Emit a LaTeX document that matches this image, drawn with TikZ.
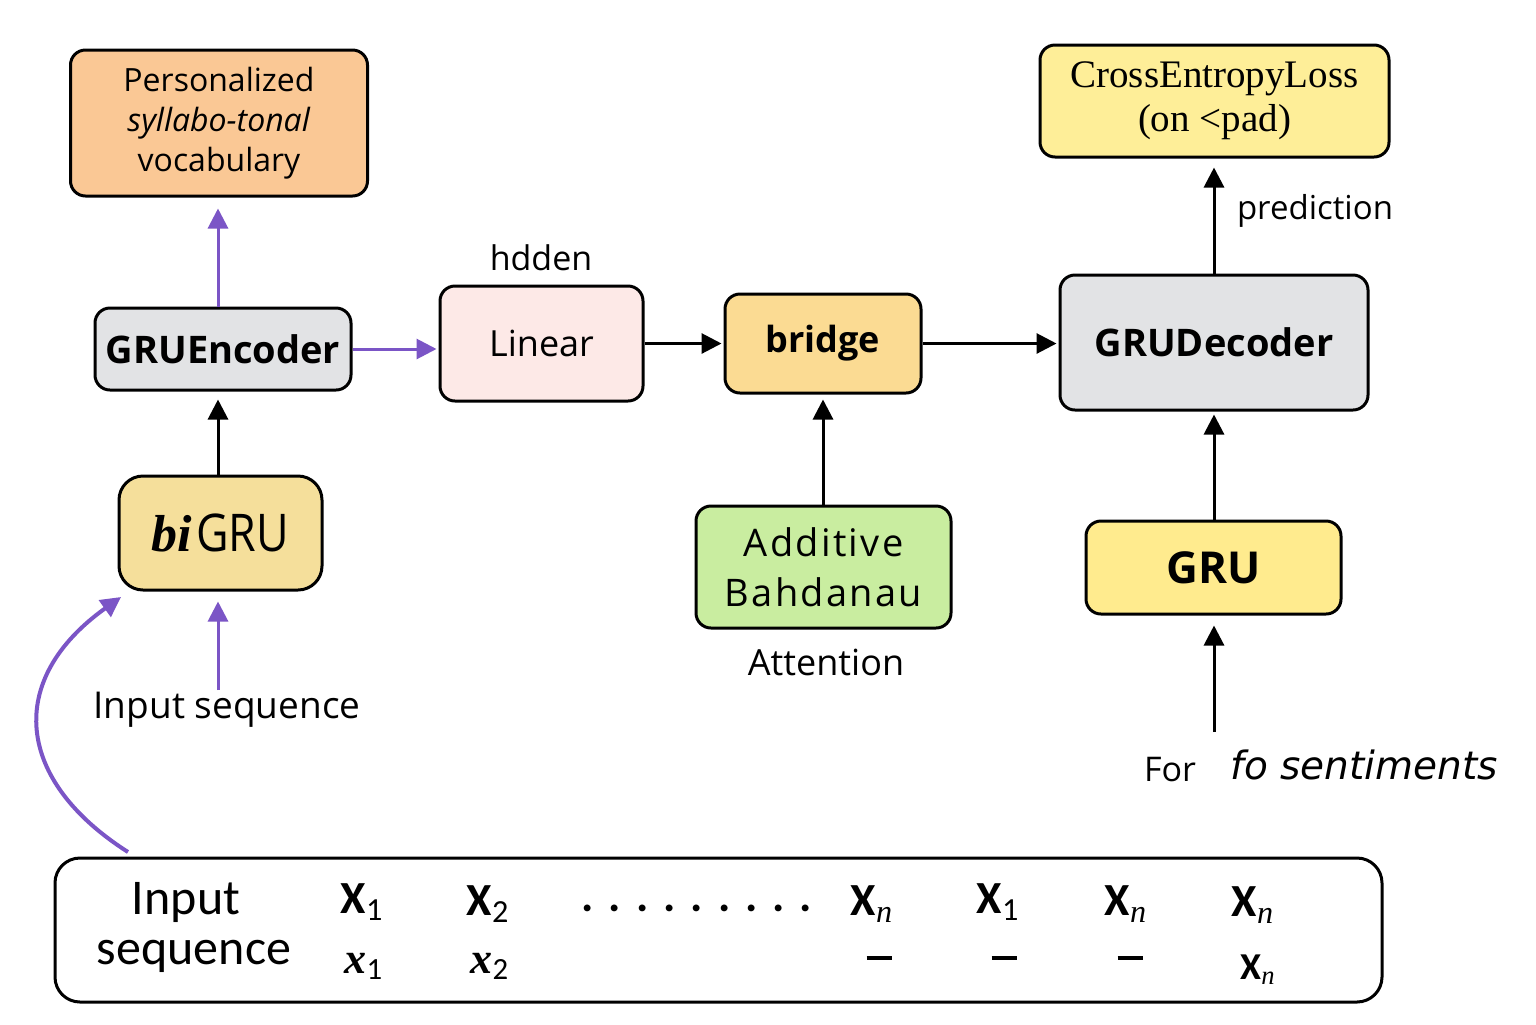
\documentclass[tikz,border=0pt]{standalone}
\usepackage{graphicx}
\usepackage{fontspec}
\setmainfont{Open Sans}
\newfontfamily\carl{Carlito}
\newfontfamily\tms{Liberation Serif}
\newfontfamily\dejav{DejaVu Sans}
\newfontfamily\osls[LetterSpace=6]{Open Sans}
\newcommand{\subn}{\textsubscript{\tms\mdseries\itshape n}}
\newcommand{\seqdash}{\rule[0.22em]{12.5pt}{1.6pt}}
\usetikzlibrary{arrows.meta}
\definecolor{vpurple}{HTML}{7B55C6}
\definecolor{cpeach}{HTML}{FAC895}
\definecolor{cgray}{HTML}{E2E3E5}
\definecolor{cpink}{HTML}{FDE9E7}
\definecolor{cbridge}{HTML}{FBDB93}
\definecolor{cyell}{HTML}{FEEE98}
\definecolor{cbigru}{HTML}{F5DF9B}
\definecolor{cgreen}{HTML}{C9EDA0}
\definecolor{cgru}{HTML}{FFEB8E}
\begin{document}
\begin{tikzpicture}[x=0.5pt,y=-0.5pt,
  box/.style={draw=black, line width=1.5pt, rounded corners=7.5pt, align=center, inner sep=0pt},
  arr/.style={line width=1.5pt, -{Triangle[length=10pt,width=10pt]}},
  parr/.style={arr, color=vpurple},
  lbl/.style={inner sep=0pt, align=center}]
\useasboundingbox (0,0) rectangle (1536,1024);
\fill[white] (0,0) rectangle (1536,1024);

% boxes
\node[box, fill=cpeach, minimum width=148.5pt, minimum height=73pt,
  font=\fontsize{16}{20}\selectfont] (voc) at (219,123)
  {Personalized\\ \textit{syllabo-tonal}\\ vocabulary};
\node[box, fill=cgray, minimum width=128pt, minimum height=41pt,
  font=\fontsize{19}{23}\selectfont\bfseries] (enc) at (223,349) {GRUEncoder};
\node[box, fill=cpink, minimum width=101.5pt, minimum height=57.5pt,
  font=\fontsize{18}{22}\selectfont] (lin) at (541.5,343.5) {Linear};
\node[box, fill=cbridge, minimum width=98pt, minimum height=49.5pt,
  font=\fontsize{18}{22}\selectfont\bfseries] (bri) at (823,343.5) {bridge};
\node[box, fill=cgray, minimum width=154pt, minimum height=67.5pt,
  font=\fontsize{19}{23}\selectfont\bfseries] (dec) at (1214,342.5) {GRUDecoder};
\node[box, fill=cyell, minimum width=174.5pt, minimum height=56pt,
  font=\tms\fontsize{19.5}{22}\selectfont] (cel) at (1214.5,101) {CrossEntropyLoss\\(on <pad)};
\node[box, fill=cbigru, minimum width=101.5pt, minimum height=57pt, rounded corners=12pt,
  font=\fontsize{26}{30}\selectfont] (bigru) at (220.5,533) {{\tms\bfseries\itshape bi}\hspace{2pt}\scalebox{0.86}[1]{GRU}};
\node[box, fill=cgreen, minimum width=127.5pt, minimum height=61pt,
  font=\osls\fontsize{19}{25}\selectfont] (add) at (823.5,567) {Additive\\Bahdanau};
\node[box, fill=cgru, minimum width=127.5pt, minimum height=46.5pt,
  font=\fontsize{22}{26}\selectfont\bfseries] (gru) at (1213.5,567.5) {GRU};

% free labels
\node[lbl, font=\fontsize{17}{20}\selectfont] (hdd) at (541,258) {hdden};
\node[lbl, font=\fontsize{16.5}{20}\selectfont] (pred) at (1315,211) {prediction};
\node[lbl, font=\fontsize{18}{22}\selectfont] (att) at (826,662) {Attention};
\node[lbl, font=\fontsize{18.5}{22}\selectfont] (insl) at (227,710) {Input sequence};
\node[lbl, font=\fontsize{17}{20}\selectfont] (for) at (1170,770) {For};
\node[lbl, font=\dejav\itshape\fontsize{19.5}{22}\selectfont] (fos) at (1364,765) {fo sentiments};

% bottom box
\node[draw=black, line width=1.5pt, rounded corners=12.5pt, minimum width=663.5pt, minimum height=72pt, inner sep=0pt] (seq) at (718.5,930) {};
\begin{scope}[every node/.style={lbl, font=\carl\fontsize{25}{30}\selectfont}]
\node (in1) at (186,902) {Input};
\node (in2) at (194,956) {sequence};
\end{scope}
\begin{scope}[every node/.style={lbl, font=\carl\bfseries\fontsize{23}{26}\selectfont}]
\node (a1) at (362,902) {X\textsubscript{\mdseries 1}};
\node (a2) at (488,904) {X\textsubscript{\mdseries 2}};
\node (dots) at (697,908) {.\hspace{7.5pt}.\hspace{7.5pt}.\hspace{7.5pt}.\hspace{7.5pt}.\hspace{7.5pt}.\hspace{7.5pt}.\hspace{7.5pt}.\hspace{7.5pt}.};
\node (a3) at (872,904) {X\subn};
\node (a4) at (998,902) {X\textsubscript{\mdseries 1}};
\node (a5) at (1126,904) {X\subn};
\node (a6) at (1253,905) {X\subn};
\node (b3) at (879,963) {\seqdash};
\node (b4) at (1004,963) {\seqdash};
\node (b5) at (1130,963) {\seqdash};
\end{scope}
\node[lbl, font=\tms\bfseries\itshape\fontsize{22}{24}\selectfont] (b1) at (364,966) {x\textsubscript{\carl\mdseries\upshape 1}};
\node[lbl, font=\tms\bfseries\itshape\fontsize{22}{24}\selectfont] (b2) at (490,966) {x\textsubscript{\carl\mdseries\upshape 2}};
\node[lbl, font=\carl\bfseries\fontsize{19}{22}\selectfont] (b6) at (1258,970) {X\subn};

% connectors
\coordinate (insTop) at (218,690);
\coordinate (forTop) at (1214,732);
\coordinate (curveStart) at (128,852);
\coordinate (curveEnd) at (121,597);

\draw[parr] (enc.north -| 218,0) -- ([yshift=-5.5pt]voc.south -| 218,0);
\draw[parr] (enc.east) -- ([xshift=-1pt]lin.west |- enc.east);
\draw[arr] (bigru.north -| 218,0) -- ([yshift=-4pt]enc.south -| 218,0);
\draw[parr] (insTop) -- ([yshift=-5pt]bigru.south -| insTop);
\draw[parr, line width=2pt] (curveStart) .. controls (15,780) and (5,680) .. (curveEnd);
\draw[arr] (lin.east |- bri.west) -- ([xshift=-1pt]bri.west);
\draw[arr] (bri.east) -- ([xshift=-1pt]dec.west |- bri.east);
\draw[arr] (add.north -| bri) -- ([yshift=-2.5pt]bri.south);
\draw[arr] (gru.north -| dec) -- ([yshift=-1.5pt]dec.south);
\draw[arr] (forTop) -- ([yshift=-5pt]gru.south -| forTop);
\draw[arr] (dec.north) -- ([yshift=-4.5pt]cel.south -| dec.north);
\end{tikzpicture}
\end{document}
